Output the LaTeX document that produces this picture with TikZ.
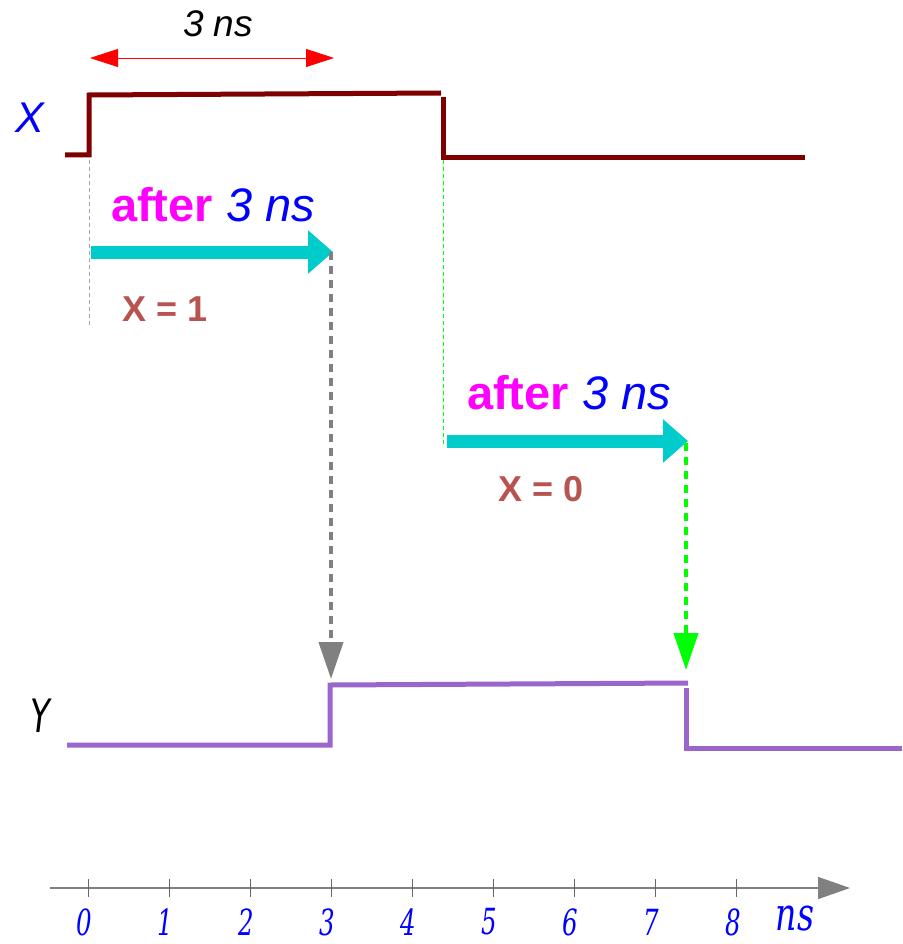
\documentclass[tikz,border=0pt]{standalone}
\usepackage{fontspec}
\setmainfont{Liberation Sans}
\newfontfamily\tickfont[FakeStretch=0.68]{DejaVu Serif}
\newfontfamily\nsfont[FakeStretch=0.72]{DejaVu Serif}
\newfontfamily\yfont[FakeStretch=0.7,FakeSlant=0.12]{DejaVu Sans}
\usetikzlibrary{positioning, arrows.meta}

\definecolor{sigx}{HTML}{7F0000}
\definecolor{sigy}{HTML}{9966CC}
\definecolor{delay}{HTML}{00CCCC}
\definecolor{valtxt}{HTML}{B85450}
\definecolor{aftercol}{HTML}{FF00FF}
\definecolor{nscol}{HTML}{0000FF}

\begin{document}
\begin{tikzpicture}[
		x=1pt, y=-1pt,
		lbl/.style={inner sep=0pt, anchor=center},
		aftertxt/.style={lbl, font=\fontsize{47}{50}\selectfont},
		valbox/.style={lbl, font=\fontsize{36}{40}\selectfont\bfseries, text=valtxt},
		wave/.style={line width=5pt, line join=miter},
		delayarrow/.style={line width=13pt, draw=delay, -{Triangle[length=25pt, width=42pt]}},
		droparrow/.style={line width=4pt, dash pattern=on 8pt off 6pt, -{Triangle[length=37pt, width=24pt]}},
		guide/.style={line width=1pt, dash pattern=on 4pt off 3pt}
		]
		\useasboundingbox (0,0) rectangle (902,944);
		
		% Nodes
		\node[lbl, font=\fontsize{37}{40}\selectfont\itshape] (span) at (218,24) {3 ns};
		\node[lbl, font=\fontsize{43}{46}\selectfont\itshape, text=nscol] (xname) at (30,118) {X};
		\node[lbl, font=\fontsize{46}{50}\yfont] (yname) at (38,716) {Y};
		\node[aftertxt] (after1) at (213,205) {\textbf{\color{aftercol}after} {\itshape\color{nscol}3 ns}};
		\node[aftertxt] (after2) at (569,393) {\textbf{\color{aftercol}after} {\itshape\color{nscol}3 ns}};
		\node[valbox] (val1) at (165,309) {X = 1};
		\node[valbox] (val0) at (541,489) {X = 0};
		
		% Coordinates
		\coordinate (spanL) at (90,58);
		\coordinate (spanR) at (334,58);
		\coordinate (rise1end) at (333,252);
		\coordinate (fall1) at (447,441);
		\coordinate (fall1end) at (688,441);
		\coordinate (riseY) at (331,679);
		\coordinate (fallY) at (686,670);
		\coordinate (axL) at (50,888);
		\coordinate (axR) at (850,888);
		
		% Waveforms
		\draw[wave, sigx] (65,155) -- (89,155) -- (89,95) -- (441,93);
		\draw[wave, sigx] (443,97) -- (443,158) -- (805,158);
		\draw[wave, sigy] (67,745) -- (330,745) -- (330,685) -- (688,683);
		\draw[wave, sigy] (686,688) -- (686,748) -- (902,748);
		
		% Guides
		\draw[guide, gray!70] (89,160) -- (89,325);
		\draw[guide, green] (443,160) -- (443,445);
		
		% Edges
		\draw[red, line width=0.8pt, {Triangle[length=28pt, width=18pt]}-{Triangle[length=28pt, width=18pt]}] (spanL) -- (spanR);
		\draw[delayarrow] (91,252) -- (rise1end);
		\draw[delayarrow] (fall1) -- (fall1end);
		\draw[droparrow, gray] (331,252) -- (riseY);
		\draw[droparrow, green] (686,443) -- (fallY);
		
		% Time axis
		\draw[gray, line width=1.5pt, -{Triangle[length=32pt, width=22pt]}] (axL) -- (axR);
		\foreach \i in {0,...,8} {
			\draw[gray!80!black, line width=0.8pt] (88+81.1*\i,879) -- (88+81.1*\i,897);
			\node[lbl, text=nscol, font=\fontsize{36}{40}\tickfont\itshape] (t\i) at (84+81.1*\i,922) {\i};
		}
		\node[lbl, text=nscol, font=\fontsize{46}{48}\nsfont\itshape] (nsunit) at (795,919) {ns};
		
	\end{tikzpicture}
\end{document}
